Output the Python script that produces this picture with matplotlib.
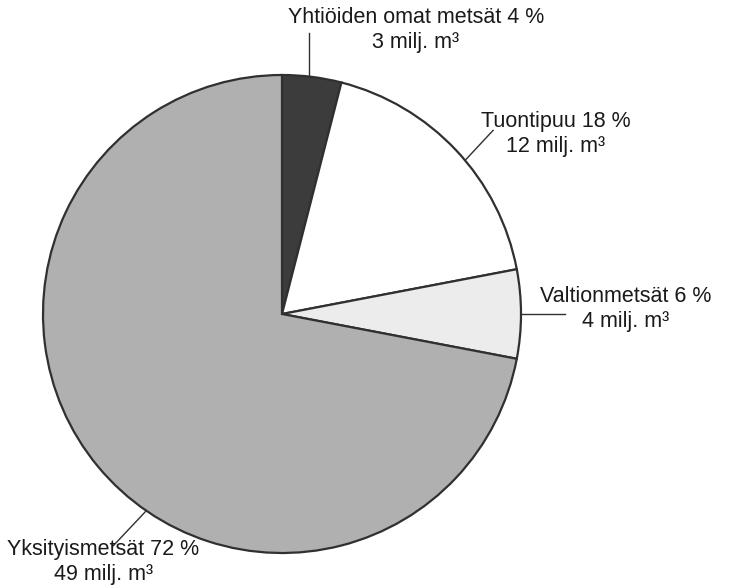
import numpy as np
import matplotlib.pyplot as plt

# Puun hankinta lähteittäin
labels = ["Yhtiöiden omat metsät", "Tuontipuu", "Valtionmetsät", "Yksityismetsät"]
shares = [4, 18, 6, 72]
volumes = [3, 12, 4, 49]
colors = ["#3c3c3c", "#ffffff", "#ececec", "#b0b0b0"]

# label placement in pixel space:
# (leader start angle deg, leader dx, leader dy, text x, text y)
W, H = 734, 588
CX, CY, R = 282, H - 314, 239
placements = [
    (83.5, 0, 44, 416, H - 30),
    (40.0, 28, 30, 556, H - 134),
    (0.0, 44, 0, 626, H - 309),
    (235.4, -33, -35, 103, H - 562),
]

plt.rcParams["font.family"] = ["Liberation Sans", "DejaVu Sans"]

fig = plt.figure(figsize=(W / 100, H / 100), dpi=100)
ax = fig.add_axes([0, 0, 1, 1])

ax.pie(
    shares,
    colors=colors,
    startangle=90,
    counterclock=False,
    center=(CX, CY),
    radius=R,
    frame=True,
    wedgeprops={"edgecolor": "#303030", "linewidth": 1.6},
)
ax.set_xlim(0, W)
ax.set_ylim(0, H)
ax.set_aspect("equal")
ax.axis("off")

for name, share, vol, (ang, dx, dy, tx, ty) in zip(labels, shares, volumes, placements):
    a = np.radians(ang)
    x0 = CX + R * np.cos(a)
    y0 = CY + R * np.sin(a)
    ax.plot([x0, x0 + dx], [y0, y0 + dy], color="#303030", linewidth=1.0)
    ax.text(
        tx,
        ty,
        f"{name} {share} %\n{vol} milj. m³",
        ha="center",
        va="center",
        fontsize=15.5,
        color="#1a1a1a",
        linespacing=1.3,
    )

fig.savefig("out.png", dpi=100)
